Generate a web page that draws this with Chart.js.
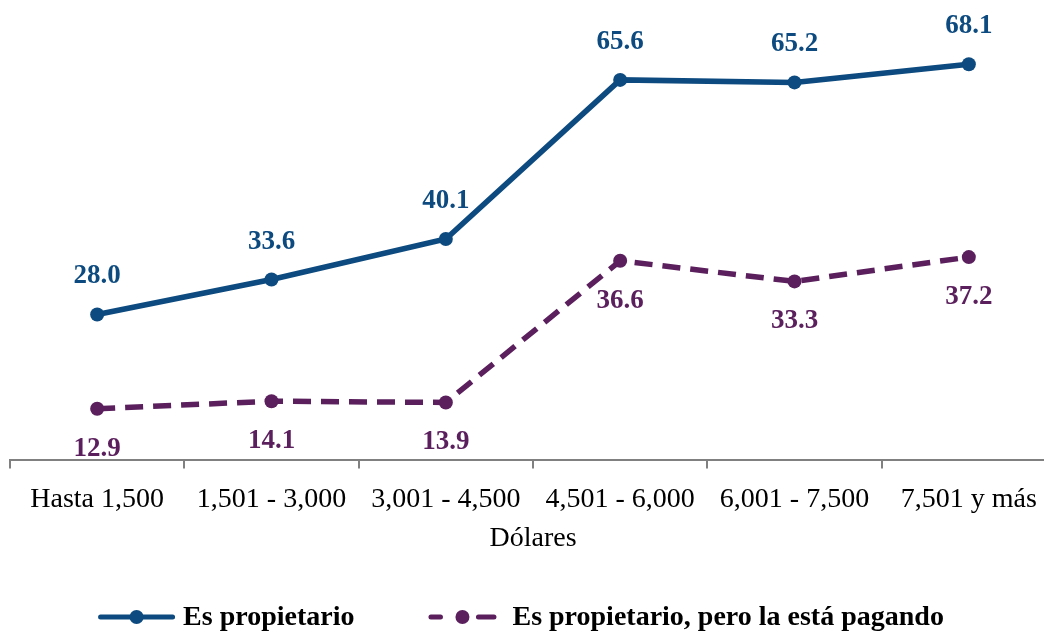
<!DOCTYPE html>
<html>
<head>
<meta charset="utf-8">
<script src="https://cdn.jsdelivr.net/npm/chart.js@4.4.1/dist/chart.umd.min.js"></script>
<style>
    html, body { margin: 0; padding: 0; background: #fff; overflow: hidden; }
    #wrap { width: 1044px; height: 633px; overflow: hidden; }
    #lienzo { width: 1063px; height: 633px; }
</style>
</head>
<body>
<div id="wrap"><div id="lienzo"><canvas id="grafico"></canvas></div></div>
<script>
// categorias del eje x (ingreso en dolares)
var categorias = ['Hasta 1,500', '1,501 - 3,000', '3,001 - 4,500', '4,501 - 6,000', '6,001 - 7,500', '7,501 y más'];
var propietario = [28.0, 33.6, 40.1, 65.6, 65.2, 68.1];
var pagando = [12.9, 14.1, 13.9, 36.6, 33.3, 37.2];
var nombres = ['Es propietario', 'Es propietario, pero la está pagando'];
var tituloX = 'Dólares';

var azul = '#0c4a7f';
var morado = '#5a1f5c';
var serif = "'Liberation Serif', 'Times New Roman', serif";

Chart.defaults.font.family = serif;

// valores encima / debajo de cada punto
var etiquetas = {
    id: 'etiquetas',
    afterDatasetsDraw: function (chart) {
        var ctx = chart.ctx;
        ctx.save();
        ctx.font = 'bold 27px ' + serif;
        ctx.textAlign = 'center';
        ctx.textBaseline = 'middle';
        chart.data.datasets.forEach(function (ds, i) {
            var meta = chart.getDatasetMeta(i);
            var dy = i === 0 ? -38 : 40;
            ctx.fillStyle = ds.borderColor;
            meta.data.forEach(function (pt, j) {
                ctx.fillText(ds.data[j].toFixed(1), pt.x, pt.y + dy);
            });
        });
        ctx.restore();
    }
};

// leyenda abajo con linea + punto
var leyenda = {
    id: 'leyenda',
    afterDraw: function (chart) {
        var ctx = chart.ctx;
        var y = chart.height - 16;
        var centro = 521;   // el lienzo es mas ancho que lo visible
        var simbolos = [77, 68];
        var separa = [8, 16];
        var entre = 74;

        ctx.save();
        ctx.font = 'bold 28px ' + serif;
        ctx.textBaseline = 'middle';

        var anchos = nombres.map(function (t) { return ctx.measureText(t).width; });
        var total = simbolos[0] + separa[0] + anchos[0] + entre + simbolos[1] + separa[1] + anchos[1];
        var x = centro - total / 2;

        chart.data.datasets.forEach(function (ds, i) {
            var w = simbolos[i];
            ctx.strokeStyle = ds.borderColor;
            ctx.fillStyle = ds.borderColor;
            ctx.lineWidth = 5;
            ctx.lineCap = 'round';
            ctx.beginPath();
            if (i === 0) {
                ctx.moveTo(x + 2.5, y);
                ctx.lineTo(x + w - 2.5, y);
            } else {
                ctx.moveTo(x + 2.5, y);
                ctx.lineTo(x + 12, y);
                ctx.moveTo(x + 50, y);
                ctx.lineTo(x + w - 2.5, y);
            }
            ctx.stroke();
            ctx.beginPath();
            ctx.arc(x + (i === 0 ? w / 2 : 34), y, 7, 0, Math.PI * 2);
            ctx.fill();

            x += w + separa[i];
            ctx.fillStyle = '#000';
            ctx.fillText(nombres[i], x, y + 1);
            x += anchos[i] + entre;
        });
        ctx.restore();
    }
};

var ctx = document.getElementById('grafico').getContext('2d');
var grafico = new Chart(ctx, {
    type: 'line',
    data: {
        labels: categorias,
        datasets: [
            {
                label: nombres[0],
                data: propietario,
                borderColor: azul,
                backgroundColor: azul,
                pointBackgroundColor: azul,
                borderWidth: 5.5,
                pointRadius: 7,
                pointBorderWidth: 0,
                fill: false,
                tension: 0
            },
            {
                label: nombres[1],
                data: pagando,
                borderColor: morado,
                backgroundColor: morado,
                pointBackgroundColor: morado,
                borderWidth: 5.5,
                borderDash: [18, 10],
                pointRadius: 7,
                pointBorderWidth: 0,
                fill: false,
                tension: 0
            }
        ]
    },
    options: {
        responsive: true,
        maintainAspectRatio: false,
        animation: false,
        layout: { padding: { top: 10, left: 10, right: 0, bottom: 85 } },
        plugins: {
            legend: { display: false },
            tooltip: { enabled: false }
        },
        scales: {
            x: {
                offset: true,
                grid: { display: true, drawOnChartArea: false, drawTicks: true, tickLength: 8, offset: true, color: '#808080', lineWidth: 2 },
                border: { display: true, color: '#808080', width: 2 },
                ticks: { color: '#000', font: { size: 28 }, padding: 14, maxRotation: 0, autoSkip: false },
                title: { display: true, text: tituloX, color: '#000', font: { size: 28, lineHeight: 0.64 }, padding: { top: 0, bottom: 0 } }
            },
            y: {
                display: false,
                min: 4.6,
                max: 76.8
            }
        }
    },
    plugins: [etiquetas, leyenda]
});
</script>
</body>
</html>
